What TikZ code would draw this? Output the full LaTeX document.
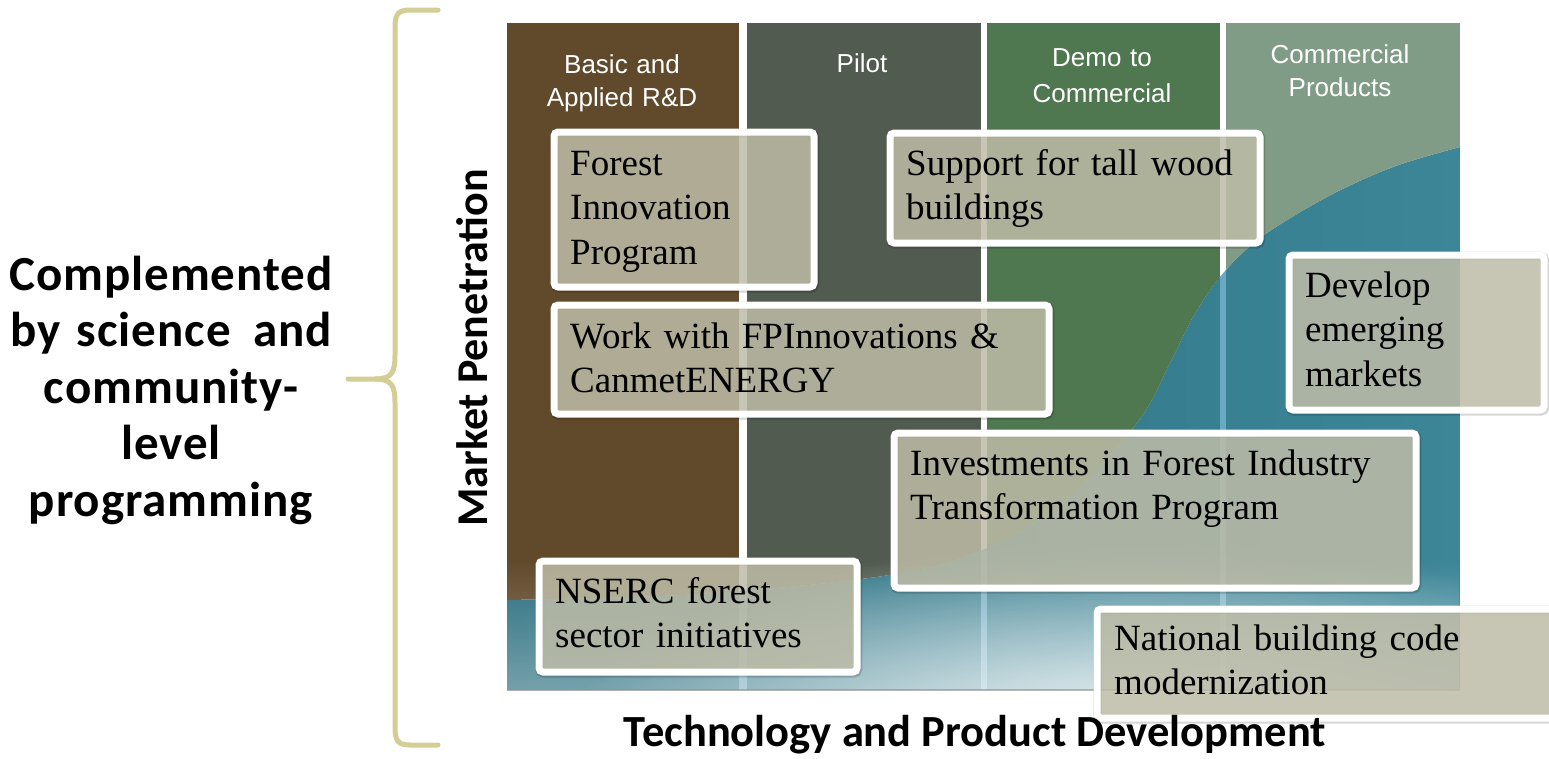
\documentclass[tikz,border=0pt]{standalone}
\usepackage{fontspec}
\setmainfont{Liberation Serif}
\newfontfamily\hdrfont{Liberation Sans}
\newfontfamily\calfont{Carlito}
\newfontfamily\calwide[LetterSpace=2]{Carlito}
\usetikzlibrary{fadings}
\definecolor{cbrown}{HTML}{614A2C}
\definecolor{cpilot}{HTML}{515B4F}
\definecolor{cdemo}{HTML}{4F7750}
\definecolor{ccomm}{HTML}{819C86}
\definecolor{tealA}{HTML}{2A6E7E}
\definecolor{tealB}{HTML}{3C8698}
\definecolor{sepblue}{HTML}{9BD3F0}
\definecolor{boxfill}{HTML}{BEBCA7}
\definecolor{bracecol}{HTML}{D5CD96}
\tikzfading[name=glowfade, inner color=transparent!0, outer color=transparent!100]
\begin{document}
\begin{tikzpicture}[x=1pt,y=-1pt,
  boxnode/.style={draw=white, line width=7pt, fill=boxfill, fill opacity=0.85,
    rounded corners=4pt, inner sep=0pt, anchor=north west,
    preaction={draw=black, draw opacity=0.16, line width=9pt,
      transform canvas={xshift=0.8pt, yshift=-1.2pt}}},
  boxtext/.style={font=\fontsize{37}{44.5}\selectfont, text width=520pt, align=left,
    inner sep=0pt, anchor=base west, text=black},
  hdr/.style={font=\hdrfont\fontsize{26}{33}\selectfont, text=white, align=center,
    text width=230pt, inner sep=0pt, anchor=base},
  calbold/.style={inner sep=0pt, text=black},
  brace/.style={draw=bracecol, line width=5pt, line cap=round, line join=round}
  ]
\useasboundingbox (0,0) rectangle (1549,758);
\fill[white] (0,0) rectangle (1549,758);
% region below curve
\begin{scope}
  \clip (507,690) -- plot[smooth,tension=0.55] coordinates {(507,600) (700,594) (883,576) (980,551) (1060,505) (1137,423) (1170,363) (1193,317) (1220,277) (1260,238) (1327,197) (1393,167) (1460,147)} -- (1460,690) -- cycle;
  \shade[left color=tealA, right color=tealB] (507,23) rectangle (1460,690);
  \fill[sepblue, opacity=0.5] (739,23) rectangle (747,690);
  \fill[sepblue, opacity=0.5] (981,23) rectangle (987,690);
  \fill[sepblue, opacity=0.5] (1220,23) rectangle (1226,690);
\end{scope}
% columns above curve
\begin{scope}
  \clip (507,23) -- plot[smooth,tension=0.55] coordinates {(507,600) (700,594) (883,576) (980,551) (1060,505) (1137,423) (1170,363) (1193,317) (1220,277) (1260,238) (1327,197) (1393,167) (1460,147)} -- (1460,23) -- cycle;
  \fill[cbrown] (507,23) rectangle (739,700);
  \fill[cpilot] (747,23) rectangle (981,700);
  \fill[cdemo] (987,23) rectangle (1220,700);
  \fill[ccomm] (1226,23) rectangle (1460,700);
\end{scope}
% light glow at the bottom
\begin{scope}
  \clip (507,23) rectangle (1460,690);
  \fill[white, fill opacity=0.35, path fading=north] (507,560) rectangle (1460,690);
  \fill[white, fill opacity=0.85, path fading=glowfade] (1130,730) ellipse [x radius=560, y radius=190];
\end{scope}
\draw[black!45, line width=1.2pt, opacity=0.6] (507,690) -- (1460,690);
% column headings
\node[hdr] (h1) at (622,73) {Basic and\\Applied R\&D};
\node[hdr] (h2) at (862,72) {Pilot};
\node[hdr, font=\hdrfont\fontsize{26}{36}\selectfont] (h3) at (1102,66) {Demo to\\Commercial};
\node[hdr] (h4) at (1340,63) {Commercial\\Products};
% boxes
\node[boxnode, minimum width=260pt, minimum height=155pt] (fip) at (550.5,128.5) {};
\node[boxnode, minimum width=370pt, minimum height=110pt] (tall) at (886.5,129.5) {};
\node[boxnode, minimum width=495pt, minimum height=109pt] (work) at (550.5,301.5) {};
\node[boxnode, minimum width=255pt, minimum height=155pt] (dev) at (1285.5,251.5) {};
\node[boxnode, minimum width=522pt, minimum height=155pt] (inv) at (890.5,429.5) {};
\node[boxnode, minimum width=318pt, minimum height=111pt] (nserc) at (535.5,557.5) {};
\node[boxnode, minimum width=463pt, minimum height=109pt] (nat) at (1093.5,605.5) {};
\node[boxtext] (fipT) at (570,175) {Forest\\Innovation\\Program};
\node[boxtext] (tallT) at (906,175) {Support for tall wood\\buildings};
\node[boxtext] (workT) at (570,348) {Work with FPInnovations \&\\CanmetENERGY};
\node[boxtext] (devT) at (1305,297) {Develop\\emerging\\markets};
\node[boxtext] (invT) at (910,475) {Investments in Forest Industry\\Transformation Program};
\node[boxtext] (nsercT) at (555,603) {NSERC forest\\sector initiatives};
\node[boxtext] (natT) at (1114,650) {National building code\\modernization};
% axis labels
\node[calbold, font=\calfont\bfseries\fontsize{44}{50}\selectfont, rotate=90] (mkt) at (472,348) {Market Penetration};
\node[calbold, font=\calfont\bfseries\fontsize{44.5}{50}\selectfont, anchor=base] (tech) at (975,746) {Technology and Product Development};
% left text and brace
\node[calbold, align=center, text width=400pt, anchor=base,
  font=\calwide\bfseries\fontsize{49}{56.5}\selectfont] (compl) at (171,290)
  {Complemented\\by science\hspace{6pt} and\\community-\\level\\programming};
\draw[brace] (438,10) -- (410,10) .. controls (398,10) and (395,14) .. (395,28)
  -- (395,355) .. controls (395,372) and (392,379) .. (375,379) -- (348,379);
\draw[brace] (438,745) -- (410,745) .. controls (398,745) and (395,741) .. (395,727)
  -- (395,403) .. controls (395,386) and (392,379) .. (375,379);
\end{tikzpicture}
\end{document}
